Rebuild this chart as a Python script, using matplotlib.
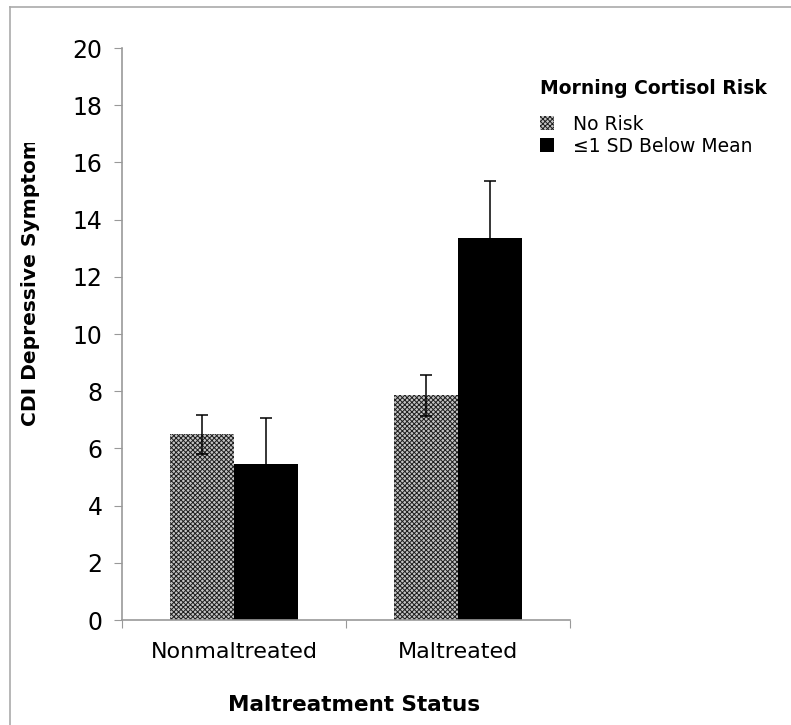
import numpy as np
import matplotlib
matplotlib.use('Agg')
import matplotlib.pyplot as plt
from matplotlib.patches import Patch, Rectangle
from matplotlib.lines import Line2D

# Data
groups = ['Nonmaltreated', 'Maltreated']
series = ['No Risk', '\u22641 SD Below Mean']
no_risk = [6.5, 7.85]
no_risk_err = [0.68, 0.72]
low_cortisol = [5.45, 13.35]
low_cortisol_err = [1.63, 2.0]

plt.rcParams['hatch.linewidth'] = 0.7
plt.rcParams['hatch.color'] = '#1e1e1e'

fig = plt.figure(figsize=(7.91, 7.25), dpi=100)
W, H = 791, 725
ax = fig.add_axes([122 / W, 1 - 620 / H, (570 - 122) / W, (620 - 48) / H])

x = np.arange(len(groups))
width = 0.285
gray = '#c4c4c4'
hatch = 'xxxxxxx'

ax.bar(x - width / 2, no_risk, width, color=gray, hatch=hatch,
       edgecolor='#1e1e1e', linewidth=0, zorder=2)
ax.bar(x + width / 2, low_cortisol, width, color='black', zorder=2)
ax.errorbar(x - width / 2, no_risk, yerr=no_risk_err, fmt='none',
            ecolor='black', elinewidth=1.1, capsize=4.5, capthick=1.1, zorder=3)
ax.errorbar(x + width / 2, low_cortisol, yerr=low_cortisol_err, fmt='none',
            ecolor='black', elinewidth=1.1, capsize=4.5, capthick=1.1, zorder=1)

ax.set_xlim(-0.5, 1.5)
ax.set_ylim(0, 20)
ax.set_yticks(np.arange(0, 21, 2))
ax.tick_params(axis='y', direction='out', length=6, color='#999999',
               labelsize=17, pad=8)

# category boundaries as major ticks, names as minor ticks
ax.set_xticks([-0.5, 0.5, 1.5])
ax.set_xticklabels([])
ax.tick_params(axis='x', which='major', direction='out', length=6, color='#999999')
ax.set_xticks(x, minor=True)
ax.set_xticklabels(groups, minor=True)
ax.tick_params(axis='x', which='minor', length=0, labelsize=16, pad=16)

for s in ['top', 'right']:
    ax.spines[s].set_visible(False)
for s in ['left', 'bottom']:
    ax.spines[s].set_color('#999999')
    ax.spines[s].set_linewidth(1.2)

# axis titles
fig.text(354 / W, 1 - 705 / H, 'Maltreatment Status', fontsize=15.5,
         fontweight='bold', ha='center', va='center')
ylab = fig.text(31 / W, 1 - 426 / H, 'CDI Depressive Symptoms', fontsize=14.6,
                fontweight='bold', rotation=90, ha='center', va='bottom')
clip = Rectangle((0, 0), 1, 1 - 143 / H, transform=fig.transFigure)
ylab.set_clip_path(clip)

# legend
fig.text(540 / W, 1 - 88 / H, 'Morning Cortisol Risk', fontsize=13.5,
         fontweight='bold', ha='left', va='center')
handles = [Patch(facecolor=gray, hatch=hatch, edgecolor='#1e1e1e', linewidth=0),
           Patch(facecolor='black')]
leg = fig.legend(handles, series, loc='upper left',
                 bbox_to_anchor=(523 / W, 1 - 98 / H), frameon=False,
                 fontsize=13.5, handlelength=0.75, handleheight=0.75,
                 handletextpad=1.0, labelspacing=0.15)

# outer frame lines
fig.add_artist(Line2D([10 / W, 10 / W], [0, 1 - 7 / H], color='#aaaaaa', lw=1.2))
fig.add_artist(Line2D([10 / W, 1], [1 - 7 / H, 1 - 7 / H], color='#aaaaaa', lw=1.2))

fig.savefig('out.png', dpi=100)
